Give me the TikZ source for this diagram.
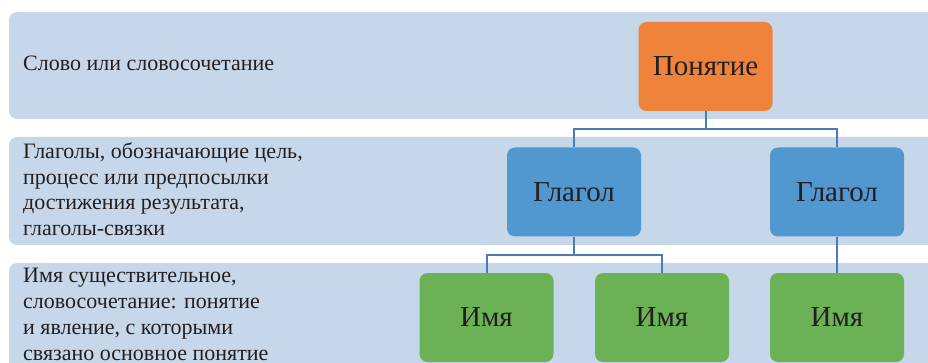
\documentclass[tikz,border=0pt]{standalone}
\usepackage{fontspec}
\usetikzlibrary{calc}
\setmainfont{Liberation Serif}
\definecolor{bandfill}{HTML}{C6D7E9}
\definecolor{orangefill}{HTML}{F0833B}
\definecolor{bluefill}{HTML}{5197D0}
\definecolor{greenfill}{HTML}{6BB155}
\definecolor{linkcol}{HTML}{4A7EB2}
\definecolor{inkcol}{HTML}{231F20}
\tikzset{
  band/.style={fill=bandfill, draw=none, rounded corners=8pt},
  bandtext/.style={anchor=base west, inner sep=0pt, text=inkcol, font=\fontsize{22}{26}\selectfont, align=left},
  box/.style={draw=none, rounded corners=8pt, minimum width=134pt, minimum height=89pt,
              inner sep=0pt, text=inkcol, font=\fontsize{29}{32}\selectfont},
  topbox/.style={box, fill=orangefill},
  midbox/.style={box, fill=bluefill},
  lowbox/.style={box, fill=greenfill},
  link/.style={draw=linkcol, line width=2pt}
}
\begin{document}
\begin{tikzpicture}[x=1pt, y=-1pt]
  \clip (0,0) rectangle (928,363);
  \fill[white] (0,0) rectangle (928,363);

  % three horizontal bands
  \path[band] (9,12) rectangle (960,119);
  \path[band] (9,137) rectangle (960,245);
  \path[band] (9,263) rectangle (960,410);

  % band captions
  \node[bandtext] (t1) at (23,71) {Слово или словосочетание};
  \node[bandtext] (t2a) at (23,159) {Глаголы, обозначающие цель,};
  \node[bandtext] (t2b) at (23,184.5) {процесс или предпосылки};
  \node[bandtext] (t2c) at (23,210) {достижения результата,};
  \node[bandtext] (t2d) at (23,236) {глаголы-связки};
  \node[bandtext] (t3a) at (23,282) {Имя существительное,};
  \node[bandtext] (t3b) at (23,308.5) {словосочетание: понятие};
  \node[bandtext] (t3c) at (23,334.5) {и явление, с которыми};
  \node[bandtext] (t3d) at (23,360) {связано основное понятие};

  % hierarchy boxes
  \node[topbox] (pon) at (705.5,66.5) {Понятие};
  \node[midbox] (g1) at (574,192) {Глагол};
  \node[midbox] (g2) at (837,192) {Глагол};
  \node[lowbox] (n1) at (486.5,317.5) {Имя};
  \node[lowbox] (n2) at (662,317.5) {Имя};
  \node[lowbox] (n3) at (837,317.5) {Имя};

  % connectors
  \coordinate (bus1) at ($(pon.south)+(0,18)$);
  \coordinate (bus2) at ($(g1.south)+(0,18)$);
  \draw[link] (pon.south) -- (bus1) -| (g1.north);
  \draw[link] (bus1) -| (g2.north);
  \draw[link] (g1.south) -- (bus2) -| (n1.north);
  \draw[link] (bus2) -| (n2.north);
  \draw[link] (g2.south) -- (n3.north);
\end{tikzpicture}
\end{document}
